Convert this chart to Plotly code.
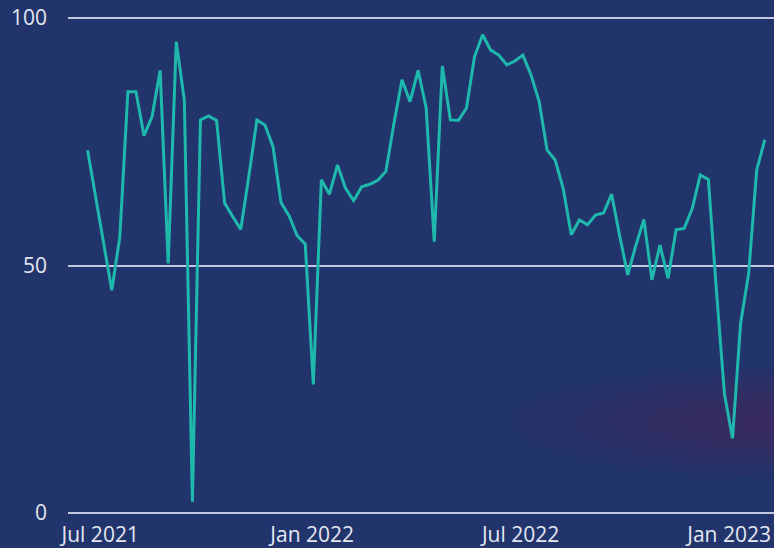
import pandas as pd
import plotly.graph_objects as go

# Weekly series (week starting dates)
start_date = "2021-06-20"
values = [
    73.3, 64.0, 55.0, 45.0, 55.8, 85.1, 85.1, 76.2, 80.1, 89.4,
    50.4, 95.2, 83.4, 2.3, 79.4, 80.2, 79.3, 62.6, 59.9, 57.3,
    68.0, 79.4, 78.4, 74.0, 62.7, 60.0, 56.0, 54.3, 26.0, 67.3,
    64.4, 70.3, 65.6, 63.1, 65.9, 66.4, 67.2, 69.0, 78.7, 87.5,
    83.1, 89.4, 81.8, 54.8, 90.3, 79.4, 79.3, 81.8, 92.2, 96.6,
    93.5, 92.5, 90.5, 91.3, 92.5, 88.5, 83.2, 73.3, 71.3, 65.5,
    56.2, 59.2, 58.2, 60.2, 60.6, 64.4, 56.0, 48.1, 54.0, 59.3,
    47.1, 54.1, 47.4, 57.2, 57.5, 61.5, 68.3, 67.4, 45.0, 24.0,
    15.1, 38.3, 48.4, 69.3, 75.4,
]
dates = pd.date_range(start_date, periods=len(values), freq="7D")

x_tick_vals = ["2021-07-01", "2022-01-01", "2022-07-01", "2022-12-29"]
x_tick_text = ["Jul 2021", "Jan 2022", "Jul 2022", "Jan 2023"]
y_tick_vals = [0, 50, 100]

BG = "#22346c"
TEXT = "#e4e7f1"
GRID = "#c3c8de"
LINE = "#1fb8ad"

fig = go.Figure()
fig.add_trace(go.Scatter(
    x=dates, y=values, mode="lines",
    line=dict(color=LINE, width=3),
    hoverinfo="skip", showlegend=False,
))

# faint reddish glow in lower right
shapes = []
n = 9
for k in range(n):
    f = 1 - k / n
    shapes.append(dict(
        type="circle", xref="paper", yref="paper", layer="below",
        x0=1.05 - 0.42 * f, x1=1.05 + 0.42 * f,
        y0=0.19 - 0.11 * f, y1=0.19 + 0.11 * f,
        fillcolor="rgba(120,35,85,0.04)", line=dict(width=0),
    ))

fig.update_layout(
    width=774, height=548,
    margin=dict(l=68, r=0, t=13, b=30),
    paper_bgcolor=BG, plot_bgcolor=BG,
    font=dict(family="Open Sans", size=21, color=TEXT),
    shapes=shapes,
    xaxis=dict(
        range=["2021-06-03", "2023-02-06"],
        tickvals=x_tick_vals, ticktext=x_tick_text,
        showgrid=False, zeroline=False, showline=False, ticks="",
        ticklabelstandoff=2, ticklabeloverflow="allow",
    ),
    yaxis=dict(
        range=[-1, 101], tickvals=y_tick_vals,
        showgrid=True, gridcolor=GRID, gridwidth=2,
        zeroline=False, showline=False, ticks="",
        ticklabelstandoff=20,
    ),
)

fig.write_html(
    "out.html",
    config={"displayModeBar": False},
    post_script="document.body.style.margin='0';document.body.style.overflow='hidden';",
)
